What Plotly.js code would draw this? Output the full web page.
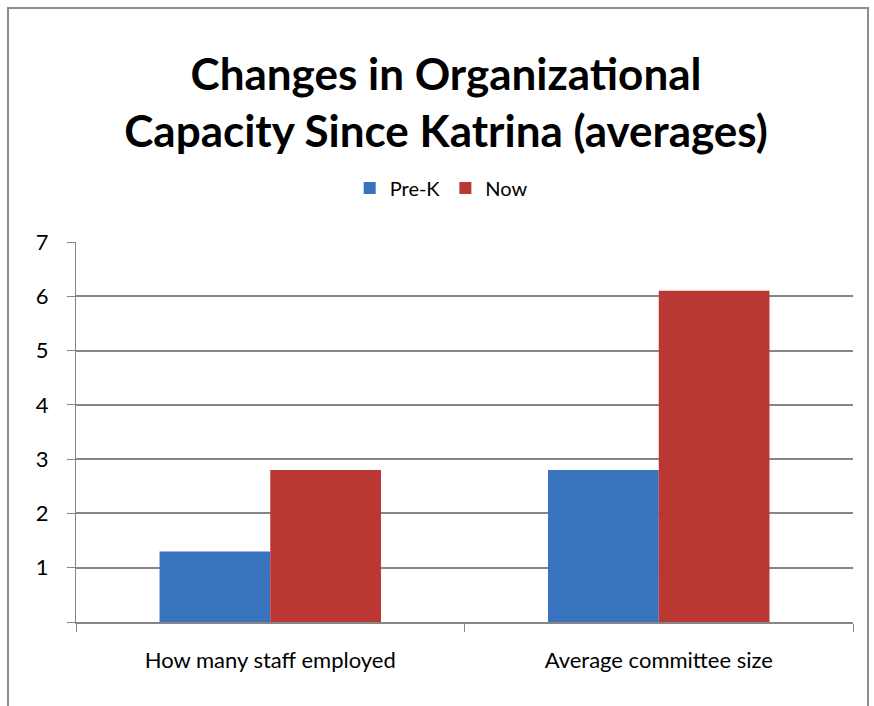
<!DOCTYPE html>
<html>
<head>
<meta charset="utf-8">
<script src="https://cdn.plot.ly/plotly-3.0.1.min.js"></script>
<style>
  html, body { margin: 0; padding: 0; background: #fff; }
  #chart { width: 874px; height: 706px; position: relative; }
  #frame { position: absolute; left: 7px; top: 7px; width: 862px; height: 720px; border: 2px solid #8c8c8c; pointer-events: none; box-sizing: border-box; }
</style>
</head>
<body>
<div id="chart"></div>
<div id="frame"></div>
<script>
const categories = ["How many staff employed", "Average committee size"];
const preK = [1.3, 2.8];
const now = [2.8, 6.1];
const yTickVals = [0, 1, 2, 3, 4, 5, 6, 7];
const yTickText = ["", "1", "2", "3", "4", "5", "6", "7"];

const fontFam = "Lato, 'Open Sans', 'DejaVu Sans', sans-serif";

const data = [
  { type: "bar", name: "Pre-K", x: categories, y: preK,
    marker: { color: "#3a73bd", line: { width: 0 } } },
  { type: "bar", name: "Now", x: categories, y: now,
    marker: { color: "#bb3733", line: { width: 0 } } }
];

const layout = {
  width: 874, height: 706,
  paper_bgcolor: "#ffffff", plot_bgcolor: "#ffffff",
  margin: { l: 76, r: 21, t: 242, b: 84 },
  barmode: "group", bargap: 0.43, bargroupgap: 0,
  font: { family: fontFam, color: "#000", size: 22 },
  title: {
    text: "<b>Changes in Organizational<br>Capacity Since Katrina (averages)</b>",
    font: { family: fontFam, size: 44, color: "#000" },
    x: 446 / 874, xanchor: "center", xref: "container",
    y: 1 - 90 / 706, yref: "container", yanchor: "middle"
  },
  showlegend: true,
  legend: {
    orientation: "h", x: 0.47, xanchor: "center", xref: "paper",
    y: 1 - 188 / 706, yref: "container", yanchor: "middle",
    font: { family: fontFam, size: 20, color: "#000" },
    itemwidth: 30, traceorder: "normal"
  },
  xaxis: {
    type: "category",
    showgrid: false, showline: true, linecolor: "#868686", linewidth: 2,
    ticks: "outside", tickson: "boundaries", ticklen: 8, tickcolor: "#868686", tickwidth: 1,
    tickfont: { family: fontFam, size: 22, color: "#000" },
    ticklabelstandoff: 18,
    fixedrange: true
  },
  yaxis: {
    range: [0, 7], tickvals: yTickVals, ticktext: yTickText,
    showgrid: true, gridcolor: "#868686", gridwidth: 2,
    showline: true, linecolor: "#868686", linewidth: 1,
    ticks: "outside", ticklen: 8, tickcolor: "#868686",
    tickfont: { family: fontFam, size: 22, color: "#000" },
    ticklabelstandoff: 14,
    zeroline: false, fixedrange: true
  }
};

Plotly.newPlot("chart", data, layout, { displayModeBar: false, staticPlot: true });
</script>
</body>
</html>
